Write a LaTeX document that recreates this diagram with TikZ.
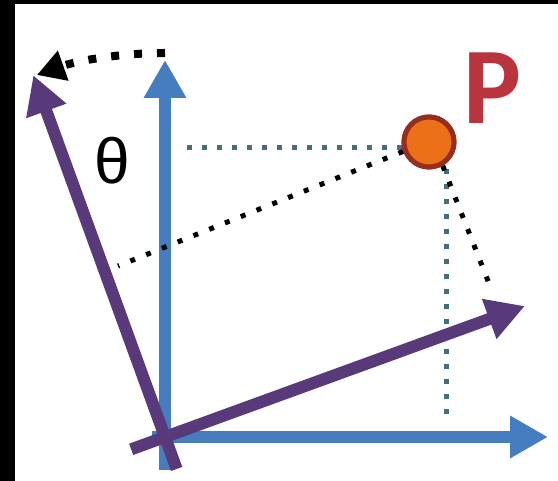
\documentclass[tikz,border=0pt]{standalone}
\usepackage{fontspec}
\setmainfont{Liberation Sans}
\newfontfamily\pfont{Carlito}
\usetikzlibrary{arrows.meta,calc}
\definecolor{axblue}{RGB}{70,125,190}
\definecolor{axpurple}{RGB}{88,58,122}
\definecolor{dotteal}{RGB}{65,112,120}
\definecolor{pfill}{RGB}{236,112,24}
\definecolor{pline}{RGB}{150,45,30}
\definecolor{pred}{RGB}{185,52,62}
\begin{document}
\begin{tikzpicture}[x=1pt,y=1pt,
  blueax/.style={draw=axblue,line width=12pt,-{Triangle[width=40pt,length=38pt]}},
  purpax/.style={draw=axpurple,line width=12pt,-{Triangle[width=40pt,length=38pt]}},
  tealdot/.style={draw=dotteal,line width=5pt,dash pattern=on 5pt off 10pt},
  blackdot/.style={draw=black,line width=5pt,dash pattern=on 5pt off 12pt},
  rotarrow/.style={draw=black,line width=8pt,dash pattern=on 8pt off 15pt,-{Triangle[width=30pt,length=28pt]}},
  pointnode/.style={circle,fill=pfill,draw=pline,line width=5pt,minimum size=50pt,inner sep=0pt}]
\useasboundingbox (0,0) rectangle (558,481);
\fill[white] (0,0) rectangle (558,481);
% black frame strips
\fill[black] (0,0) rectangle (15,481);
\fill[black] (0,477) rectangle (558,481);
% key points
\coordinate (O) at (165,44);
\coordinate (bxs) at (152,44);
\coordinate (bxt) at (548,44);
\coordinate (bys) at (165,11);
\coordinate (byt) at (165,421);
\coordinate (pxs) at ($(O)+(200:36pt)$);
\coordinate (pxt) at ($(O)+(20:383pt)$);
\coordinate (pys) at ($(O)+(290:34pt)$);
\coordinate (pyt) at ($(O)+(110:385pt)$);
\coordinate (arcs) at (165,428);
% blue axes
\draw[blueax] (bxs) -- (bxt);
\draw[blueax] (bys) -- (byt);
% point and dotted projections
\node[pointnode] (P) at (429,339) {};
\coordinate (hl) at (178,333);
\coordinate (vt) at (446,312);
\coordinate (vb) at (446,58);
\coordinate (ll) at (118,215);
\coordinate (lr) at (492,190);
\draw[tealdot] (P.west |- hl) -- (hl);
\draw[tealdot] (vt) -- (vb);
\draw[blackdot] (P.200) -- (ll);
\draw[blackdot] (P.-60) -- (lr);
% purple axes
\draw[purpax] (pxs) -- (pxt);
\draw[purpax] (pys) -- (pyt);
% point on top
\node[pointnode] at (P) {};
% rotation arrow
\draw[rotarrow] (arcs) arc[start angle=90,end angle=109.5,radius=384pt];
% labels
\node[text=pred,font=\pfont\fontsize{109}{109}\selectfont\bfseries,inner sep=0pt] (Plab) at (493,393) {P};
\node[font=\fontsize{64}{64}\selectfont,inner sep=0pt] (th) at (112,320) {θ};
\end{tikzpicture}
\end{document}
